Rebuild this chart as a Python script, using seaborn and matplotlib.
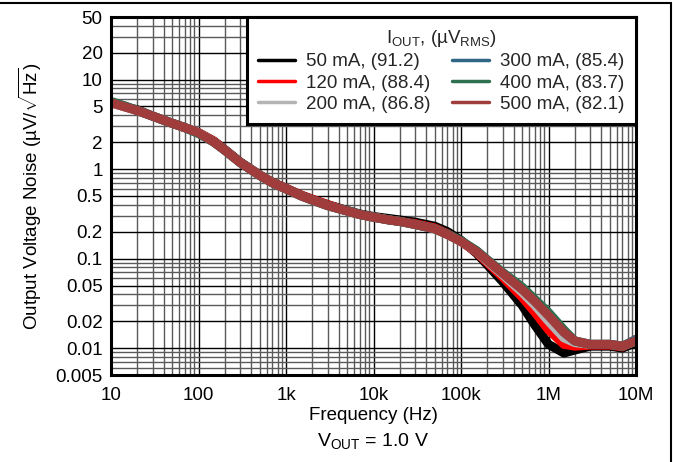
import numpy as np
import pandas as pd
import matplotlib
matplotlib.use("Agg")
import matplotlib.pyplot as plt
from matplotlib.lines import Line2D
from matplotlib.ticker import FixedLocator, NullFormatter
import seaborn as sns

freq = [10, 15, 20, 30, 50, 70, 100, 150, 200, 300, 500, 700,
        1e3, 1.5e3, 2e3, 3e3, 5e3, 7e3, 1e4, 1.5e4, 2e4, 3e4, 5e4, 7e4,
        1e5, 1.5e5, 2e5, 3e5, 5e5, 7e5, 1e6, 1.5e6, 2e6, 3e6, 5e6, 7e6, 1e7]

n_50 = [5.6, 4.9, 4.6, 3.9, 3.25, 2.9, 2.55, 2.05, 1.65, 1.2, 0.86, 0.71,
        0.61, 0.51, 0.46, 0.4, 0.345, 0.315, 0.295, 0.28, 0.27, 0.255, 0.23, 0.2,
        0.16, 0.115, 0.085, 0.055, 0.03, 0.018, 0.011, 0.0088, 0.0095, 0.0105, 0.0105, 0.0100, 0.0115]
n_120 = [5.5, 4.9, 4.5, 3.9, 3.25, 2.9, 2.55, 2.05, 1.64, 1.19, 0.86, 0.71,
         0.61, 0.51, 0.46, 0.4, 0.34, 0.31, 0.29, 0.27, 0.26, 0.245, 0.22, 0.19,
         0.155, 0.118, 0.09, 0.062, 0.037, 0.025, 0.016, 0.011, 0.0105, 0.0108, 0.0108, 0.0103, 0.0125]
n_200 = [5.5, 4.9, 4.5, 3.9, 3.25, 2.9, 2.55, 2.0, 1.62, 1.18, 0.85, 0.7,
         0.6, 0.5, 0.45, 0.39, 0.34, 0.31, 0.29, 0.27, 0.26, 0.24, 0.215, 0.185,
         0.155, 0.12, 0.093, 0.066, 0.042, 0.03, 0.02, 0.013, 0.0115, 0.011, 0.011, 0.0105, 0.012]
n_300 = [5.6, 5.0, 4.5, 3.9, 3.25, 2.9, 2.5, 2.0, 1.62, 1.18, 0.85, 0.7,
         0.6, 0.5, 0.45, 0.39, 0.34, 0.31, 0.29, 0.27, 0.26, 0.24, 0.215, 0.187,
         0.157, 0.122, 0.096, 0.069, 0.047, 0.034, 0.024, 0.015, 0.012, 0.011, 0.011, 0.0105, 0.0125]
n_400 = [5.7, 5.0, 4.5, 3.9, 3.25, 2.9, 2.5, 2.0, 1.62, 1.18, 0.85, 0.7,
         0.6, 0.5, 0.45, 0.39, 0.34, 0.31, 0.29, 0.27, 0.26, 0.24, 0.215, 0.188,
         0.158, 0.123, 0.097, 0.07, 0.048, 0.035, 0.025, 0.016, 0.012, 0.011, 0.011, 0.0105, 0.012]
n_500 = [5.5, 4.9, 4.5, 3.9, 3.25, 2.9, 2.55, 2.0, 1.62, 1.18, 0.85, 0.7,
         0.6, 0.5, 0.45, 0.39, 0.34, 0.31, 0.29, 0.27, 0.26, 0.24, 0.215, 0.185,
         0.155, 0.12, 0.095, 0.068, 0.045, 0.033, 0.023, 0.015, 0.012, 0.011, 0.011, 0.0105, 0.012]

series_labels = ["50 mA, (91.2)", "120 mA, (88.4)", "200 mA, (86.8)",
                 "300 mA, (85.4)", "400 mA, (83.7)", "500 mA, (82.1)"]
series_values = [n_50, n_120, n_200, n_300, n_400, n_500]
colors = ["#000000", "#ff0000", "#b4b4b4", "#2f6585", "#2e7050", "#a03c3c"]

y_ticks = [0.005, 0.01, 0.02, 0.05, 0.1, 0.2, 0.5, 1, 2, 5, 10, 20, 50]
y_ticklabels = ["0.005", "0.01", "0.02", "0.05", "0.1", "0.2", "0.5", "1", "2", "5", "10", "20", "50"]
x_ticks = [10, 100, 1e3, 1e4, 1e5, 1e6, 1e7]
x_ticklabels = ["10", "100", "1k", "10k", "100k", "1M", "10M"]

rows = []
for lab, vals in zip(series_labels, series_values):
    for f, v in zip(freq, vals):
        rows.append({"freq": f, "noise": v, "series": lab})
df = pd.DataFrame(rows)

sns.set_theme(style="white")
plt.rcParams['font.family'] = ['Liberation Sans', 'DejaVu Sans']
plt.rcParams['mathtext.fontset'] = 'custom'
plt.rcParams['mathtext.rm'] = 'Liberation Sans'
plt.rcParams['mathtext.it'] = 'Liberation Sans:italic'

FS = 13.5

fig = plt.figure(figsize=(6.73, 4.62), dpi=100)
ax = fig.add_axes([111/673, 1 - 375/462, (636 - 111)/673, (375 - 17)/462])

sns.lineplot(data=df, x="freq", y="noise", hue="series", hue_order=series_labels,
             palette=colors, linewidth=6.5, ax=ax, sort=False, estimator=None, legend=True)

ax.set_xscale("log")
ax.set_yscale("log")
ax.set_xlim(10, 1e7)
ax.set_ylim(0.005, 50)

y_minor = [m * 10.0**e for e in range(-3, 2) for m in range(1, 10)]
y_minor = [v for v in y_minor if 0.005 < v < 50 and not any(abs(v - t) / t < 1e-6 for t in y_ticks)]
x_minor = [m * 10.0**e for e in range(1, 7) for m in range(2, 10)]

ax.yaxis.set_major_locator(FixedLocator(y_ticks))
ax.set_yticklabels(y_ticklabels)
ax.yaxis.set_minor_locator(FixedLocator(y_minor))
ax.yaxis.set_minor_formatter(NullFormatter())
ax.xaxis.set_major_locator(FixedLocator(x_ticks))
ax.set_xticklabels(x_ticklabels)
ax.xaxis.set_minor_locator(FixedLocator(x_minor))
ax.xaxis.set_minor_formatter(NullFormatter())

ax.grid(which="major", color="black", linewidth=1.0)
ax.grid(which="minor", color="#5a5a5a", linewidth=1.0)
ax.set_axisbelow(True)
ax.tick_params(which="both", length=0, labelsize=FS, colors="black")
ax.tick_params(axis="y", pad=6)
ax.tick_params(axis="x", pad=9)

for s in ax.spines.values():
    s.set_color("black")
    s.set_linewidth(2.2)

ax.set_xlabel("Frequency (Hz)", fontsize=FS, color="black", labelpad=2)
ax.set_ylabel(r"Output Voltage Noise (µV/$\sqrt{\mathrm{Hz}}$)", fontsize=FS, color="black",
              labelpad=8)

handles, labels = ax.get_legend_handles_labels()
leg = ax.legend(handles, labels, ncol=2, loc="upper right", bbox_to_anchor=(1.0, 1.0),
                borderaxespad=0, frameon=True, fancybox=False, framealpha=1,
                edgecolor="black", fontsize=FS, title_fontsize=FS,
                title=r"I$_{\mathrm{OUT}}$, (µV$_{\mathrm{RMS}}$)",
                handlelength=2.0, columnspacing=1.1, labelspacing=0.22,
                borderpad=0.6, handletextpad=0.6)
leg.get_frame().set_linewidth(2.2)
for ln in leg.get_lines():
    ln.set_linewidth(2.5)

fig.text((111 + 636) / 2 / 673, 1 - 441 / 462, r"V$_{\mathrm{OUT}}$ = 1.0 V",
         ha="center", va="center", fontsize=14, color="black")

fig.add_artist(Line2D([0, 671/673], [1 - 3/462, 1 - 3/462], color="black", linewidth=1.5,
                      transform=fig.transFigure))
fig.add_artist(Line2D([671/673, 671/673], [0, 1 - 3/462], color="black", linewidth=1.5,
                      transform=fig.transFigure))

fig.savefig("out.png", dpi=100, facecolor="white")
